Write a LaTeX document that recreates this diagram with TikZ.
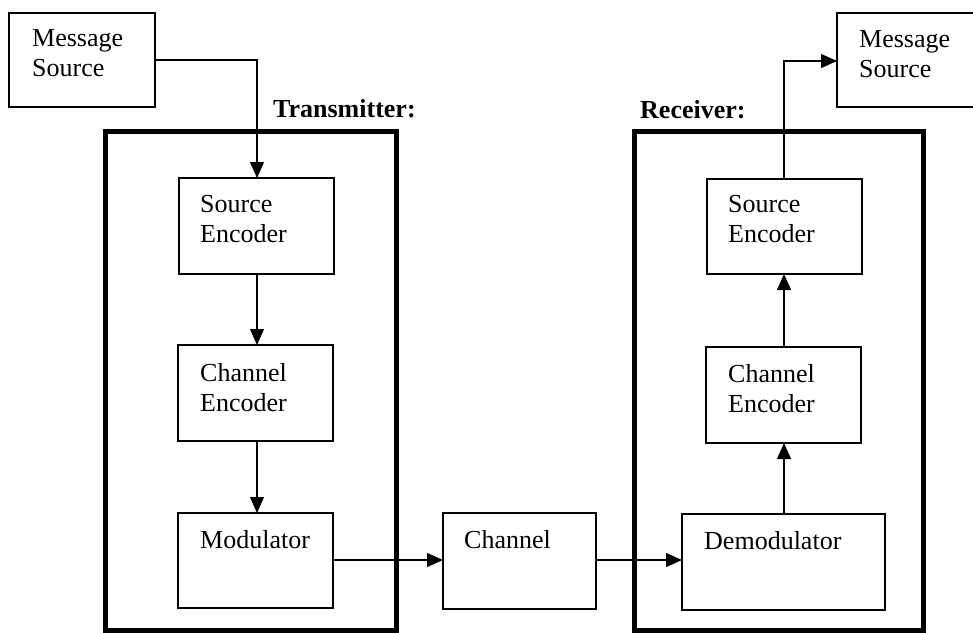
\documentclass[tikz,border=0pt]{standalone}
\usepackage{fontspec}
\setmainfont{Liberation Serif}
\usetikzlibrary{arrows.meta}
\begin{document}
\begin{tikzpicture}[x=1pt,y=-1pt,
  box/.style={draw, line width=1.2pt, rectangle, inner sep=0pt, outer sep=0pt, anchor=north west},
  frame/.style={draw, line width=5pt, rectangle, inner sep=0pt, outer sep=0pt, anchor=north west},
  lbl/.style={font=\fontsize{26}{30}\selectfont, align=left, inner sep=0pt, anchor=north west},
  head/.style={font=\fontsize{26}{30}\selectfont\bfseries, inner sep=0pt, anchor=base west},
  flow/.style={line width=1.2pt, -{Triangle[length=16pt,width=14pt]}}]
\useasboundingbox (0,0) rectangle (973,632);
\clip (0,0) rectangle (973,632);

% transmitter and receiver frames
\node[frame, minimum width=291pt, minimum height=499pt] (tx) at (105,131) {};
\node[frame, minimum width=289pt, minimum height=499pt] (rx) at (634,131) {};
\node[head] (txlbl) at (273,117) {Transmitter:};
\node[head] (rxlbl) at (640,118) {Receiver:};

% blocks
\node[box, minimum width=146pt, minimum height=94pt] (msin) at (9,13) {};
\node[box, minimum width=155pt, minimum height=96pt] (senc) at (179,178) {};
\node[box, minimum width=155pt, minimum height=96pt] (cenc) at (178,345) {};
\node[box, minimum width=155pt, minimum height=95pt] (mod) at (178,513) {};
\node[box, minimum width=153pt, minimum height=96pt] (chan) at (443,513) {};
\node[box, minimum width=203pt, minimum height=96pt] (demod) at (682,514) {};
\node[box, minimum width=155pt, minimum height=96pt] (cdec) at (706,347) {};
\node[box, minimum width=155pt, minimum height=95pt] (sdec) at (707,179) {};
\node[box, minimum width=160pt, minimum height=94pt] (msout) at (837,13) {};

% block texts
\node[lbl] (tmsin) at (32,29.5) {Message\\Source};
\node[lbl] (tsenc) at (200,195.5) {Source\\Encoder};
\node[lbl] (tcenc) at (200,363.5) {Channel\\Encoder};
\node[lbl] (tmod) at (200,530.5) {Modulator};
\node[lbl] (tchan) at (464,530.5) {Channel};
\node[lbl] (tdemod) at (704,531.5) {Demodulator};
\node[lbl] (tcdec) at (728,364.5) {Channel\\Encoder};
\node[lbl] (tsdec) at (728,195.5) {Source\\Encoder};
\node[lbl] (tmsout) at (859,30.5) {Message\\Source};

% connectors
\coordinate (k1) at (257,60);
\coordinate (k2) at (784,61);
\draw[flow] (msin.east |- k1) -- (k1) -- (k1 |- senc.north);
\draw[flow] (k1 |- senc.south) -- (k1 |- cenc.north);
\draw[flow] (k1 |- cenc.south) -- (k1 |- mod.north);
\draw[flow] (mod.east |- 0,560) -- (chan.west |- 0,560);
\draw[flow] (chan.east |- 0,560) -- (demod.west |- 0,560);
\draw[flow] (k2 |- demod.north) -- (k2 |- cdec.south);
\draw[flow] (k2 |- cdec.north) -- (k2 |- sdec.south);
\draw[flow] (k2 |- sdec.north) -- (k2) -- (msout.west |- k2);
\end{tikzpicture}
\end{document}
